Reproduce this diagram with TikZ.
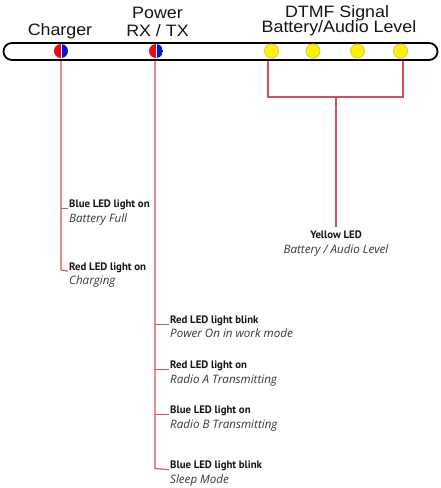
\documentclass[tikz,border=0pt]{standalone}
\usepackage{fontspec}
\newfontfamily\hdr[FakeStretch=1.08]{Liberation Sans}
\newfontfamily\lbl{PT Sans}
\newfontfamily\ilbl{Open Sans}
\definecolor{linered}{RGB}{210,80,92}
\definecolor{ledred}{RGB}{235,10,20}
\definecolor{ledblue}{RGB}{10,20,215}
\definecolor{ledyellow}{RGB}{255,242,0}
\definecolor{ledyellowdk}{RGB}{215,200,70}
\definecolor{txt}{RGB}{20,20,20}
\definecolor{txti}{RGB}{55,55,55}
\tikzset{
  redline/.style={draw=linered, line width=1.1pt},
  header/.style={anchor=base, inner sep=0, font=\hdr\fontsize{16.5}{18}\selectfont, text=txt},
  boldfont/.style={font=\lbl\bfseries\fontsize{10.8}{12}\selectfont, text=txt},
  italfont/.style={font=\ilbl\itshape\fontsize{11.6}{13}\selectfont, text=txti},
  boldlbl/.style={anchor=base west, inner sep=0, boldfont},
  itallbl/.style={anchor=base west, inner sep=0, italfont},
  ledsplit/.style={circle, inner sep=0, minimum size=14pt,
    path picture={
      \fill[ledred] (path picture bounding box.north west) rectangle (path picture bounding box.south);
      \fill[ledblue] (path picture bounding box.north) rectangle (path picture bounding box.south east);
      \draw[white, line width=0.7pt] (path picture bounding box.north) -- (path picture bounding box.south);
    }},
  yled/.style={circle, inner sep=0, minimum size=14pt, fill=ledyellow, draw=ledyellowdk, line width=0.9pt},
}
\begin{document}
\begin{tikzpicture}[x=1pt,y=-1pt]
\useasboundingbox[fill=white] (0,0) rectangle (441,488);

% bar
\node[draw=black, line width=1.8pt, rounded corners=8.5pt, minimum width=434pt, minimum height=17pt, inner sep=0] (bar) at (220.5,51.5) {};

% headers
\node[header] (hchg) at (60,35) {Charger};
\node[header] (hpow) at (157.5,18.3) {Power};
\node[header] (hrx) at (157.5,36.7) {RX / TX};
\node[header] (hdtmf) at (337,17.3) {DTMF Signal};
\node[header] (hbat) at (339,32.3) {Battery/Audio Level};

% LEDs
\node[ledsplit] (chg) at (61,51) {};
\node[ledsplit] (pow) at (156,51) {};
\node[yled] (y1) at (271.5,51) {};
\node[yled] (y2) at (313,51) {};
\node[yled] (y3) at (357.5,51) {};
\node[yled] (y4) at (400.5,51) {};

% charger labels
\node[boldlbl] (c1) at (69,207) {Blue LED light on};
\node[itallbl] (c1d) at (69,222) {Battery Full};
\node[boldlbl] (c2) at (69,270) {Red LED light on};
\node[itallbl] (c2d) at (69,284.5) {Charging};

% power labels
\node[boldlbl] (p1) at (170,323.5) {Red LED light blink};
\node[itallbl] (p1d) at (170,337.5) {Power On in work mode};
\node[boldlbl] (p2) at (170,368.5) {Red LED light on};
\node[itallbl] (p2d) at (170,383) {Radio A Transmitting};
\node[boldlbl] (p3) at (170,413.5) {Blue LED light on};
\node[itallbl] (p3d) at (170,428) {Radio B Transmitting};
\node[boldlbl] (p4) at (170,468.5) {Blue LED light blink};
\node[itallbl] (p4d) at (170,483) {Sleep Mode};

% yellow labels
\node[anchor=base, inner sep=0, boldfont] (yl) at (336,238.5) {Yellow LED};
\node[anchor=base, inner sep=0, italfont] (yld) at (336,253.5) {Battery / Audio Level};

% connectors
\coordinate (cx) at (61,0);
\coordinate (px) at (155,0);
\draw[redline] (bar.south -| cx) -- (cx |- c2.base) -- ([xshift=-1pt,yshift=-1.2pt]c2.base west);
\draw[redline] ([yshift=-1.2pt]cx |- c1.base) -- ([xshift=-1pt,yshift=-1.2pt]c1.base west);

\draw[redline] (bar.south -| px) -- (px |- p4.base) -- ([xshift=-1pt,yshift=-1.2pt]p4.base west);
\draw[redline] ([yshift=-1.2pt]px |- p1.base) -- ([xshift=-1pt,yshift=-1.2pt]p1.base west);
\draw[redline] ([yshift=-1.2pt]px |- p2.base) -- ([xshift=-1pt,yshift=-1.2pt]p2.base west);
\draw[redline] ([yshift=-1.2pt]px |- p3.base) -- ([xshift=-1pt,yshift=-1.2pt]p3.base west);

\coordinate (yl1) at (268,97);
\coordinate (yr1) at (403,97);
\coordinate (ym) at (336,97);
\coordinate (ymend) at (336,227);
\draw[redline] (bar.south -| yl1) -- (yl1) -- (yr1) -- (bar.south -| yr1);
\draw[redline] (ym) -- (ymend);
\end{tikzpicture}
\end{document}
